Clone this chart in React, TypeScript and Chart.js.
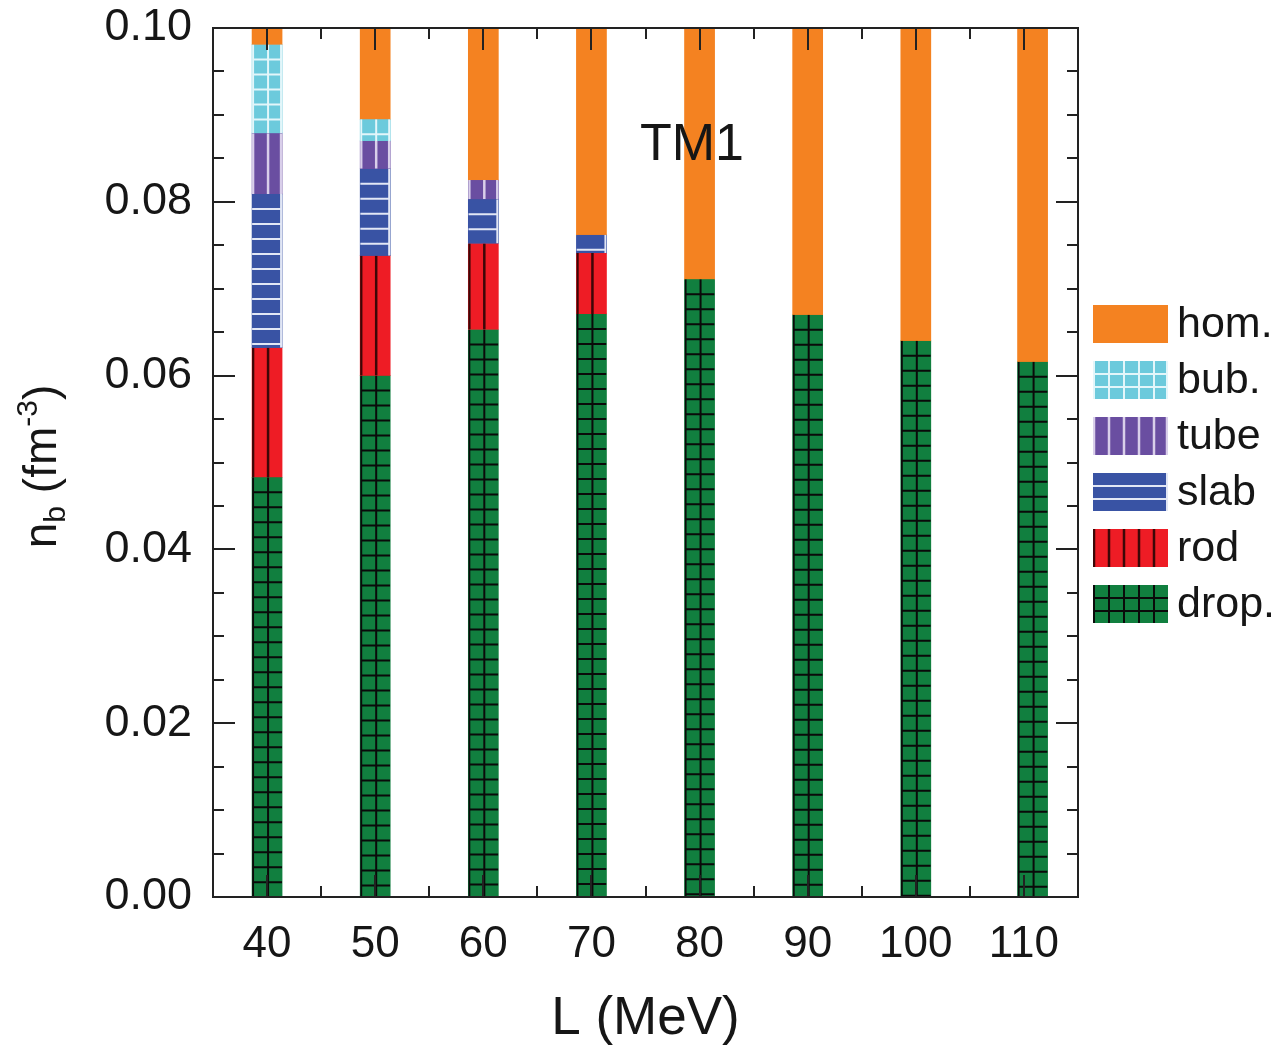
import React, { useEffect, useRef } from "react";
import { Chart, registerables } from "chart.js";

Chart.register(...registerables);

const FONT = '"Liberation Sans", Arial, Helvetica, sans-serif';
const INK = "#161616";

// slope of the symmetry energy L (MeV): tick labels and where each column stands
const L_TICKS = [40, 50, 60, 70, 80, 90, 100, 110];
const COLUMN_L = [40, 50, 60, 70, 80, 90, 100, 110.8];

// upper baryon density (fm^-3) reached by each pasta phase in every column; null = phase absent
const DROP_END = [0.0483, 0.06, 0.0653, 0.0671, 0.0711, 0.067, 0.064, 0.0616];
const ROD_END = [0.0632, 0.0738, 0.0752, 0.0741, null, null, null, null];
const SLAB_END = [0.0809, 0.0838, 0.0803, 0.0762, null, null, null, null];
const TUBE_END = [0.0879, 0.087, 0.0825, null, null, null, null, null];
const BUB_END = [0.0981, 0.0895, null, null, null, null, null, null];
const NB_MAX = 0.1;
const NB_TICKS = [0, 0.02, 0.04, 0.06, 0.08, 0.1];

// legend order (top to bottom)
const PHASES = ["hom.", "bub.", "tube", "slab", "rod", "drop."];
// order of appearance with increasing density
const PHASE_SEQUENCE = ["drop.", "rod", "slab", "tube", "bub."];
const PHASE_ENDS = [DROP_END, ROD_END, SLAB_END, TUBE_END, BUB_END];

const MODEL_LABEL = "TM1";

type PhaseStyle = {
  fill: string;
  line?: string;
  lineWidth?: number;
  vertical?: boolean;
  horizontal?: boolean;
  edge?: boolean;
};

const PHASE_STYLES: Record<string, PhaseStyle> = {
  "hom.": { fill: "#f48221" },
  "bub.": { fill: "#6ccadc", line: "#e3f6fa", lineWidth: 2, vertical: true, horizontal: true, edge: true },
  tube: { fill: "#6a4ea1", line: "#d9cfea", lineWidth: 2.5, vertical: true, edge: true },
  slab: { fill: "#3953a4", line: "#e2e7f5", lineWidth: 2, horizontal: true, edge: true },
  rod: { fill: "#ee1c25", line: "#3c0707", lineWidth: 2.5, vertical: true },
  "drop.": { fill: "#117f3f", line: "#0a0a0a", lineWidth: 2, vertical: true, horizontal: true },
};

type Segment = { x: number; y: [number, number] };

function buildSegments(): Record<string, Segment[]> {
  const seg: Record<string, Segment[]> = {};
  PHASES.forEach((p) => (seg[p] = []));
  COLUMN_L.forEach((x, i) => {
    let start = 0;
    PHASE_SEQUENCE.forEach((p, k) => {
      const end = PHASE_ENDS[k][i];
      if (end != null) {
        seg[p].push({ x, y: [start, end] });
        start = end;
      }
    });
    seg["hom."].push({ x, y: [start, NB_MAX] });
  });
  return seg;
}

// fill a rectangle with the hatch of a phase
function paintCell(
  ctx: CanvasRenderingContext2D,
  style: PhaseStyle,
  left: number,
  top: number,
  w: number,
  h: number,
  vStep: number,
  hStep: number
) {
  ctx.save();
  ctx.beginPath();
  ctx.rect(left, top, w, h);
  ctx.clip();
  ctx.fillStyle = style.fill;
  ctx.fillRect(left, top, w, h);
  if (style.line) {
    ctx.strokeStyle = style.line;
    ctx.lineWidth = style.lineWidth || 2;
    ctx.beginPath();
    if (style.vertical) {
      for (let x = left + 1; x < left + w - 3; x += vStep) {
        ctx.moveTo(x, top);
        ctx.lineTo(x, top + h);
      }
    }
    if (style.horizontal) {
      for (let y = top + hStep; y < top + h - 1; y += hStep) {
        ctx.moveTo(left, y);
        ctx.lineTo(left + w, y);
      }
    }
    if (style.edge) {
      ctx.moveTo(left + w - 1, top);
      ctx.lineTo(left + w - 1, top + h);
    }
    ctx.stroke();
  }
  ctx.restore();
}

const hatchPlugin = {
  id: "phaseHatch",
  afterDatasetsDraw(chart: any) {
    const ctx = chart.ctx as CanvasRenderingContext2D;
    chart.data.datasets.forEach((ds: any, di: number) => {
      const style = PHASE_STYLES[ds.label];
      const meta = chart.getDatasetMeta(di);
      meta.data.forEach((el: any) => {
        const { x, y, base, width } = el.getProps(["x", "y", "base", "width"], true);
        const top = Math.min(y, base);
        const h = Math.abs(base - y);
        paintCell(ctx, style, x - width / 2, top, width, h, width / 2, 15);
      });
    });
  },
};

const framePlugin = {
  id: "frameAndNotes",
  afterDraw(chart: any) {
    const ctx = chart.ctx as CanvasRenderingContext2D;
    const area = chart.chartArea;
    const xs = chart.scales.x;
    const ys = chart.scales.y;

    // frame with inward ticks on all four sides
    ctx.save();
    ctx.strokeStyle = "#222";
    ctx.lineWidth = 2;
    ctx.strokeRect(area.left, area.top, area.right - area.left, area.bottom - area.top);
    ctx.beginPath();
    for (let v = xs.min + 5; v < xs.max - 1e-6; v += 5) {
      const px = Math.round(xs.getPixelForValue(v));
      const len = Math.round(v) % 10 === 0 ? 22 : 11;
      ctx.moveTo(px, area.bottom);
      ctx.lineTo(px, area.bottom - len);
      ctx.moveTo(px, area.top);
      ctx.lineTo(px, area.top + len);
    }
    for (let k = 1; k < 20; k++) {
      const py = Math.round(ys.getPixelForValue(k * 0.005));
      const len = k % 4 === 0 ? 22 : 11;
      ctx.moveTo(area.left, py);
      ctx.lineTo(area.left + len, py);
      ctx.moveTo(area.right, py);
      ctx.lineTo(area.right - len, py);
    }
    ctx.stroke();
    ctx.restore();

    // model name inside the plot
    ctx.save();
    ctx.fillStyle = INK;
    ctx.font = `52px ${FONT}`;
    ctx.textAlign = "center";
    ctx.textBaseline = "middle";
    ctx.fillText(MODEL_LABEL, xs.getPixelForValue(79.3), ys.getPixelForValue(0.0865));
    ctx.restore();

    // y-axis title n_b (fm^-3)
    ctx.save();
    ctx.translate(area.left - 157, (area.top + area.bottom) / 2 + 4);
    ctx.rotate(-Math.PI / 2);
    ctx.fillStyle = INK;
    ctx.textBaseline = "alphabetic";
    ctx.textAlign = "left";
    const parts = [
      { t: "n", size: 46, dy: 0 },
      { t: "b", size: 30, dy: 9 },
      { t: " (fm", size: 46, dy: 0 },
      { t: "-3", size: 30, dy: -19 },
      { t: ")", size: 46, dy: 0 },
    ];
    let total = 0;
    parts.forEach((p) => {
      ctx.font = `${p.size}px ${FONT}`;
      total += ctx.measureText(p.t).width;
    });
    let cx = -total / 2;
    parts.forEach((p) => {
      ctx.font = `${p.size}px ${FONT}`;
      ctx.fillText(p.t, cx, p.dy);
      cx += ctx.measureText(p.t).width;
    });
    ctx.restore();

    // legend to the right of the plot
    ctx.save();
    const boxLeft = area.right + 15;
    const boxW = 75;
    const boxH = 38;
    const rowH = 56;
    const firstTop = area.top + 277;
    PHASES.forEach((p, i) => {
      const top = firstTop + i * rowH;
      paintCell(ctx, PHASE_STYLES[p], boxLeft, top, boxW, boxH, 15, 13);
      ctx.fillStyle = INK;
      ctx.font = `43px ${FONT}`;
      ctx.textAlign = "left";
      ctx.textBaseline = "middle";
      ctx.fillText(p, boxLeft + 84, top + boxH / 2 + 1);
    });
    ctx.restore();
  },
};

export default function App() {
  const canvasRef = useRef<HTMLCanvasElement | null>(null);

  useEffect(() => {
    const canvas = canvasRef.current;
    if (!canvas) return;
    const seg = buildSegments();
    const datasets = PHASES.map((p) => ({
      label: p,
      data: seg[p],
      backgroundColor: PHASE_STYLES[p].fill,
      borderWidth: 0,
      grouped: false,
      barThickness: 30,
    }));

    const chart = new Chart(canvas, {
      type: "bar",
      data: { datasets } as any,
      options: {
        animation: false,
        responsive: false,
        devicePixelRatio: 1,
        layout: { padding: { top: 28, right: 206, left: 0, bottom: 0 } },
        plugins: { legend: { display: false }, tooltip: { enabled: false } },
        scales: {
          x: {
            type: "linear",
            min: 35,
            max: 115,
            offset: false,
            grid: { display: false, drawTicks: false, offset: false },
            border: { display: false },
            afterBuildTicks: (scale: any) => {
              scale.ticks = L_TICKS.map((v) => ({ value: v }));
            },
            afterFit: (scale: any) => {
              scale.height = 150;
              scale.paddingLeft = 0;
              scale.paddingRight = 0;
            },
            ticks: {
              autoSkip: false,
              maxRotation: 0,
              padding: 26,
              color: INK,
              font: { family: FONT, size: 44, lineHeight: 1 },
              callback: (v: any) => String(v),
            },
            title: {
              display: true,
              text: "L (MeV)",
              color: INK,
              font: { family: FONT, size: 53, lineHeight: 1 },
              padding: { top: 0, bottom: 1 },
            },
          },
          y: {
            type: "linear",
            min: 0,
            max: NB_MAX,
            grid: { display: false, drawTicks: false },
            border: { display: false },
            afterBuildTicks: (scale: any) => {
              scale.ticks = NB_TICKS.map((v) => ({ value: v }));
            },
            afterFit: (scale: any) => {
              scale.width = 213;
              scale.paddingTop = 0;
              scale.paddingBottom = 0;
            },
            ticks: {
              autoSkip: false,
              padding: 21,
              color: INK,
              font: { family: FONT, size: 45, lineHeight: 1 },
              callback: (v: any) => Number(v).toFixed(2),
            },
          },
        },
      } as any,
      plugins: [hatchPlugin, framePlugin],
    });
    return () => chart.destroy();
  }, []);

  return (
    <div style={{ position: "absolute", left: 0, top: 0, width: 1284, height: 1047, background: "#fff" }}>
      <canvas ref={canvasRef} width={1284} height={1047} style={{ display: "block" }} />
    </div>
  );
}
